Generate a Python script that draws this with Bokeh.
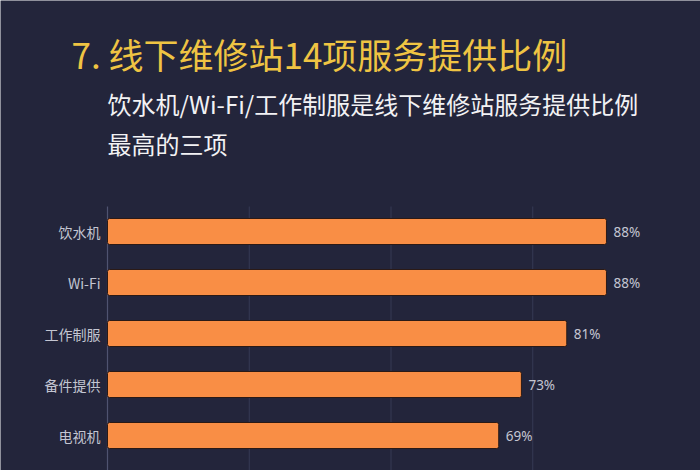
from bokeh.plotting import figure
from bokeh.models import Range1d, ColumnDataSource
from bokeh.embed import file_html
from bokeh.resources import INLINE
from bokeh.core.properties import value

# ---- data ----
categories = ["饮水机", "Wi-Fi", "工作制服", "备件提供", "电视机"]
shares = [88, 88, 81, 73, 69]
share_labels = ["88%", "88%", "81%", "73%", "69%"]
grid_ticks = [25, 50, 75]
title_text = "7. 线下维修站14项服务提供比例"
subtitle_lines = ["饮水机/Wi-Fi/工作制服是线下维修站服务提供比例", "最高的三项"]

# ---- style / layout ----
W, H = 700, 470
BG = "#23253b"
BAR = "#F98E45"
LABEL_C = "#c4c6d2"
CJK = "Noto Sans CJK SC"
X0_PX = 107          # pixel where 0% sits
PX_PER_PCT = 5.67    # pixels per percent
Y0_PX = 231          # centre of first bar
PX_PER_ROW = 51      # row pitch
TOP_PX = 206         # top of plotting area


def dx(px):
    return (px - X0_PX) / PX_PER_PCT


def dy(py):
    return (py - Y0_PX) / PX_PER_ROW


p = figure(width=W, height=H, output_backend="svg", toolbar_location=None,
           x_range=Range1d(dx(0), dx(W)), y_range=Range1d(dy(H), dy(0)),
           x_axis_location=None, y_axis_location=None, min_border=0,
           background_fill_color=BG, border_fill_color=BG)
p.outline_line_color = None
p.grid.visible = False

pos = list(range(len(categories)))
src = ColumnDataSource(dict(y=pos, v=shares, lab=share_labels, cat=categories))

# grid lines and axis line
p.segment(x0=grid_ticks, x1=grid_ticks, y0=dy(TOP_PX), y1=dy(H),
          line_color="#363a55", line_width=1)
p.segment(x0=[0], x1=[0], y0=[dy(TOP_PX)], y1=[dy(H)],
          line_color="#4f5370", line_width=1.2)

# bars
p.hbar(y="y", left=0, right="v", height=26 / PX_PER_ROW, source=src,
       fill_color=BAR, line_color="#2b1a16", line_width=1, border_radius=2)

# category labels
p.text(x=0, y="y", text="cat", source=src, x_offset=-7,
       text_baseline="middle", text_align="right", text_font_size="14px",
       text_color=LABEL_C, text_font=value(CJK))

# value labels
p.text(x="v", y="y", text="lab", source=src, x_offset=7,
       text_baseline="middle", text_align="left", text_font_size="13.5px",
       text_color=LABEL_C, text_font=value("Noto Sans"))

# heading
p.text(x=[dx(71)], y=[dy(27)], text=[title_text], text_baseline="top",
       text_font_size="35px", text_color="#EFC443", text_font=value(CJK))
p.text(x=[dx(107), dx(107)], y=[dy(85), dy(125)], text=subtitle_lines,
       text_baseline="top", text_font_size="24px", text_color="#f2f2f4",
       text_font=value(CJK))

open("out.html", "w").write(file_html(p, INLINE))
